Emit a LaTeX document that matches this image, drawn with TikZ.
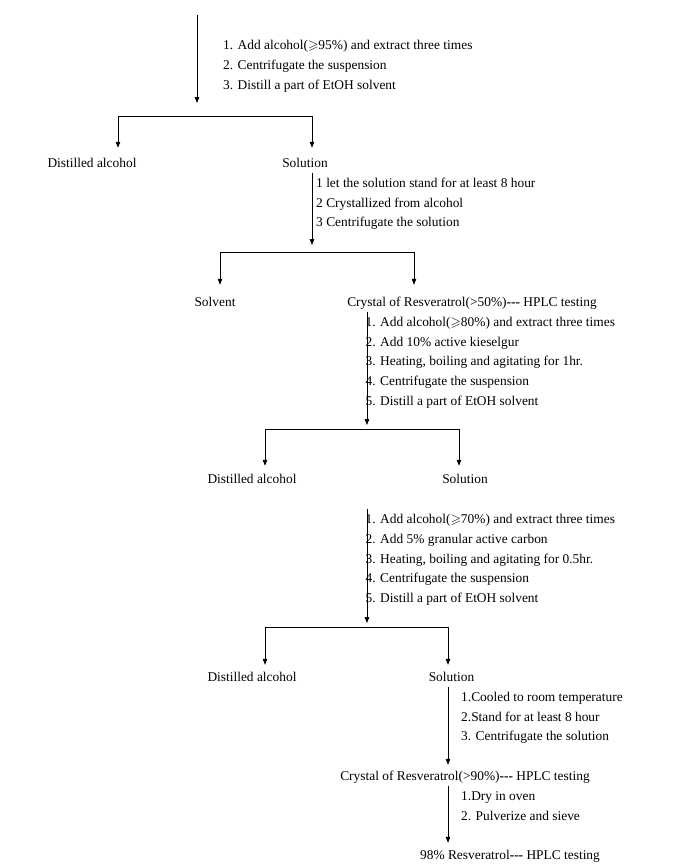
\documentclass[tikz,border=0pt]{standalone}
\usepackage{amssymb}
\usepackage{fontspec}
\setmainfont{Liberation Serif}
\usepackage{tikz}
\usetikzlibrary{arrows.meta,positioning}
\tikzstyle{result} = [anchor=base, text height=9pt, text depth=3pt, inner xsep=2pt, inner ysep=2pt, font=\fontsize{13.4}{19.7}\selectfont]
\tikzstyle{stepline} = [anchor=base west, inner sep=0pt, font=\fontsize{13.4}{19.7}\selectfont]
\tikzstyle{arrow} = [line width=0.8pt, ->, >={Triangle[length=6pt,width=4.5pt]}]

\begin{document}
\begin{tikzpicture}[x=1pt,y=-1pt]
 \useasboundingbox (0,0) rectangle (697,867);
% forks and free ends
 \coordinate (top) at (197,15);
 \coordinate (fork1) at (197,116);
 \coordinate (fork2) at (312,252);
 \coordinate (fork3) at (367,429);
 \coordinate (wash2) at (367,509);
 \coordinate (fork4) at (367,627);
% products
 \node[result] (dist1) at (92,167.5) {Distilled alcohol};
 \node[result] (sol1) at (305,167.5) {Solution};
 \node[result] (solvent) at (215,306.5) {Solvent};
 \node[result] (cry1) at (472,306.5)
              {Crystal of Resveratrol(>50\%)\textbf{-{}-{}-} HPLC testing};
 \node[result] (dist2) at (252,483.5) {Distilled alcohol};
 \node[result] (sol2) at (465,483.5) {Solution};
 \node[result] (dist3) at (252,681.5) {Distilled alcohol};
 \node[result] (sol3) at (451.5,681.5) {Solution};
 \node[result] (cry2) at (465,780.5)
              {Crystal of Resveratrol(>90\%)\textbf{-{}-{}-} HPLC testing};
 \node[result] (final) at (510,859.5)
              {98\% Resveratrol\textbf{-{}-{}-} HPLC testing};
% steps
 \foreach \t [count=\i] in {1. Add alcohol($\geqslant$95\%) and extract three times,
                            2. Centrifugate the suspension,
                            3. Distill a part of EtOH solvent}
   \node[stepline] (a\i) at (223,29.7+19.9*\i) {\t};
 \foreach \t [count=\i] in {1 let the solution stand for at least 8 hour,
                            2 Crystallized from alcohol,
                            3 Centrifugate the solution}
   \node[stepline] (b\i) at (316,168+19.6*\i) {\t};
 \foreach \t [count=\i] in {1. Add alcohol($\geqslant$80\%) and extract three times,
                            2. Add 10\% active kieselgur,
                            {3. Heating, boiling and agitating for 1hr.},
                            4. Centrifugate the suspension,
                            5. Distill a part of EtOH solvent}
   \node[stepline] (c\i) at (365.5,307+19.6*\i) {\t};
 \foreach \t [count=\i] in {1. Add alcohol($\geqslant$70\%) and extract three times,
                            2. Add 5\% granular active carbon,
                            {3. Heating, boiling and agitating for 0.5hr.},
                            4. Centrifugate the suspension,
                            5. Distill a part of EtOH solvent}
   \node[stepline] (d\i) at (365.5,504+19.7*\i) {\t};
 \foreach \t [count=\i] in {1.Cooled to room temperature,
                            2.Stand for at least 8 hour,
                            3. Centrifugate the solution}
   \node[stepline] (e\i) at (461,682+19.5*\i) {\t};
 \foreach \t [count=\i] in {1.Dry in oven,
                            2. Pulverize and sieve}
   \node[stepline] (f\i) at (461,781+19.5*\i) {\t};
% arrows
 \draw[arrow,shorten >=13pt] (top) -- (fork1);
 \draw[arrow,shorten >=8.5pt] (fork1) -| ([xshift=26pt]dist1.north);
 \draw[arrow,shorten >=8.5pt] (fork1) -| ([xshift=7pt]sol1.north);
 \draw[arrow,shorten >=7pt] ([xshift=7pt]sol1.south) -- (fork2);
 \draw[arrow,shorten >=10.5pt] (fork2) -| ([xshift=5pt]solvent.north);
 \draw[arrow,shorten >=10.5pt] (fork2) -| ([xshift=-58pt]cry1.north);
 \draw[arrow,shorten >=4pt] ([xshift=-105pt]cry1.south) -- (fork3);
 \draw[arrow,shorten >=6.5pt] (fork3) -| ([xshift=13pt]dist2.north);
 \draw[arrow,shorten >=6.5pt] (fork3) -| ([xshift=-6pt]sol2.north);
 \draw[arrow,shorten >=4pt] (wash2) -- (fork4);
 \draw[arrow,shorten >=5.5pt] (fork4) -| ([xshift=13pt]dist3.north);
 \draw[arrow,shorten >=5.5pt] (fork4) -| ([xshift=-3.5pt]sol3.north);
 \draw[arrow,shorten >=4.5pt] ([xshift=-3.5pt]sol3.south)
                              -- ([xshift=-17pt]cry2.north);
 \draw[arrow,shorten >=5.5pt] ([xshift=-17pt]cry2.south)
                              -- ([xshift=-62pt]final.north);
\end{tikzpicture}
\end{document}
